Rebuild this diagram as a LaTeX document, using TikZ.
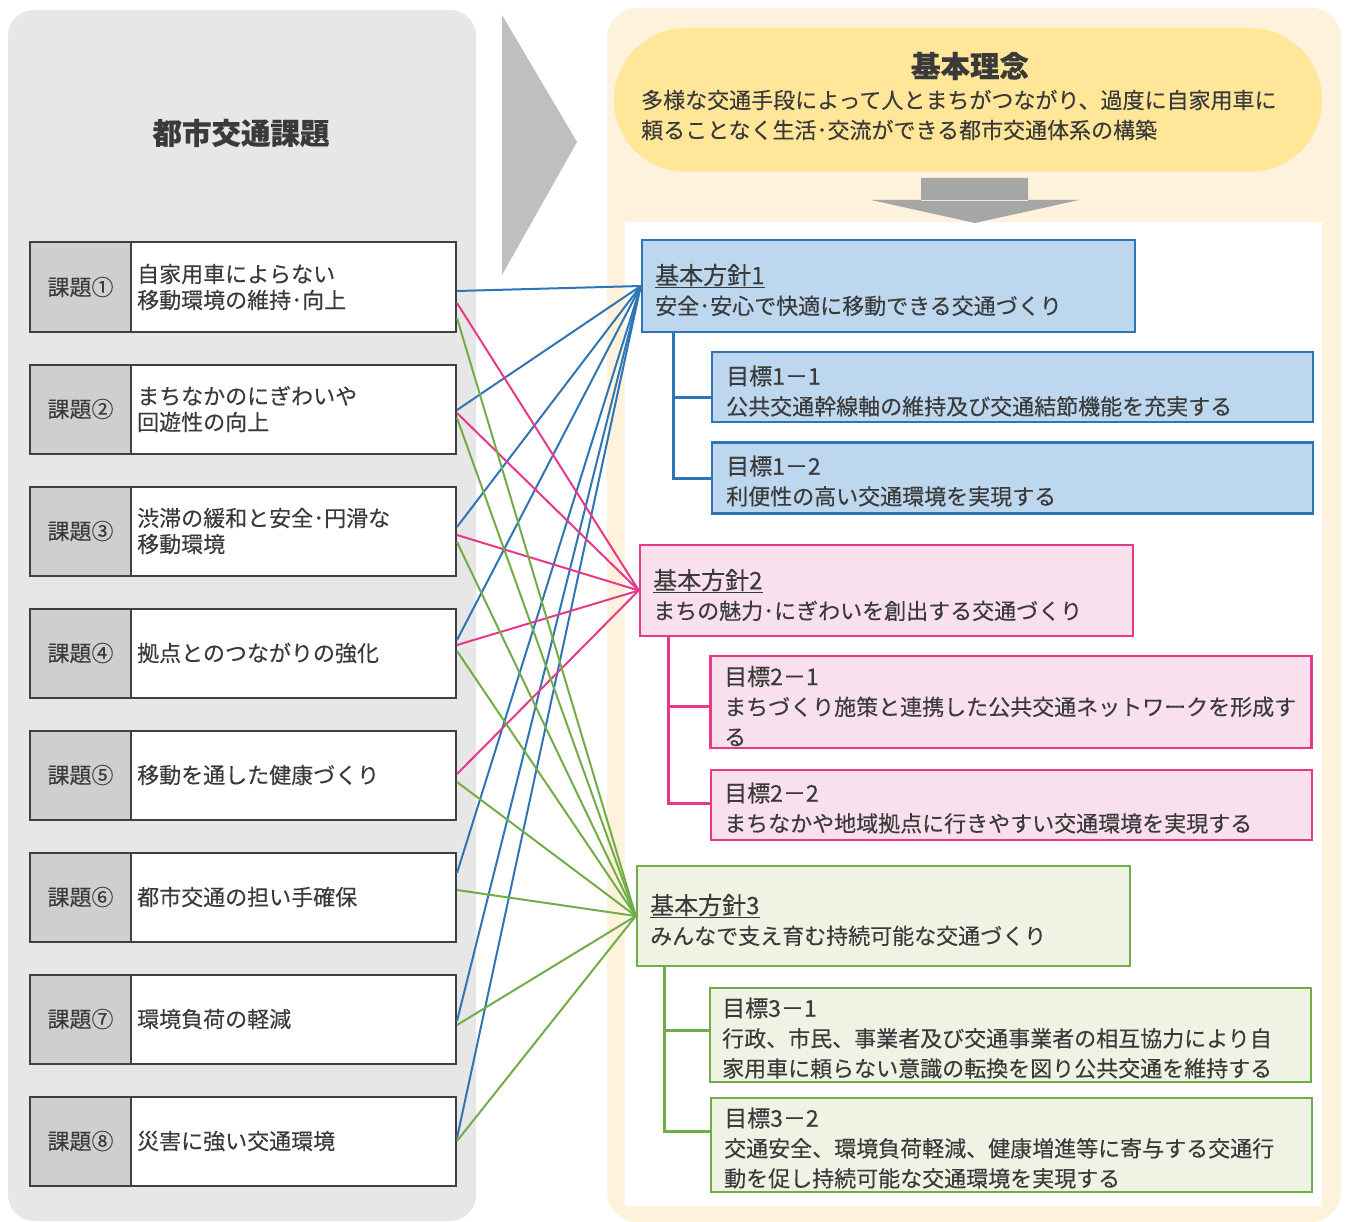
\documentclass[tikz,border=0pt]{standalone}
\usepackage{fontspec}
\newfontfamily\cjk[FakeBold=0.2]{Noto Sans CJK JP}
\newfontfamily\cjkm[FakeBold=0.45]{Noto Sans CJK JP}
\definecolor{tgray}{HTML}{3A3A3A}
\definecolor{panelgray}{HTML}{E7E7E7}
\definecolor{labelgray}{HTML}{D0CECE}
\definecolor{boxline}{HTML}{404040}
\definecolor{chev}{HTML}{BFBFBF}
\definecolor{cream}{HTML}{FEF2DC}
\definecolor{pill}{HTML}{FFE699}
\definecolor{darrow}{HTML}{A6A6A6}
\definecolor{lblue}{HTML}{2E75B6}
\definecolor{fblue}{HTML}{BDD7EE}
\definecolor{lpink}{HTML}{E8388A}
\definecolor{fpink}{HTML}{F8E1EC}
\definecolor{lgreen}{HTML}{70AD47}
\definecolor{fgreen}{HTML}{EEF3E4}
\begin{document}
\begin{tikzpicture}[x=1pt,y=-1pt,
  issue/.style={draw=boxline, line width=2pt, fill=white, minimum width=426pt, minimum height=89pt, inner sep=0pt},
  ilabel/.style={draw=boxline, line width=2pt, fill=labelgray, minimum width=101pt, minimum height=89pt, inner sep=0pt, anchor=west, text=tgray, font=\cjk\fontsize{22}{26}\selectfont},
  itext/.style={anchor=west, inner sep=0pt, align=left, text=tgray, font=\cjk\fontsize{22}{26}\selectfont},
  ptext/.style={anchor=west, inner sep=0pt, align=left, text=tgray, font=\cjk\fontsize{22}{30}\selectfont},
  pbox/.style={line width=2.5pt, minimum width=493pt, inner sep=0pt},
  gbox/.style={line width=2.5pt, minimum width=601pt, inner sep=0pt},
  bl/.style={draw=lblue, line width=2pt},
  pl/.style={draw=lpink, line width=2pt},
  gl/.style={draw=lgreen, line width=2pt},
  btree/.style={draw=lblue, line width=3pt},
  ptree/.style={draw=lpink, line width=3pt},
  gtree/.style={draw=lgreen, line width=3pt}
]
\useasboundingbox (0,0) rectangle (1348,1222);
% panels
\fill[panelgray, rounded corners=26pt] (8,10) rectangle (476,1221);
\fill[chev] (502,15) -- (577,142) -- (502,275) -- cycle;
\fill[cream, rounded corners=30pt] (607,8) rectangle (1341,1222);
\fill[pill, rounded corners=72pt] (614,28) rectangle (1322,172);
\fill[white] (625,222) rectangle (1322,1206);
\fill[darrow] (921,178) rectangle (1028,201) (871,200) -- (1079,200) -- (975,223) -- cycle;

% titles
\node[text=tgray, font=\cjk\bfseries\fontsize{29.5}{30}\selectfont] (ttl) at (241,133) {都市交通課題};
\node[text=tgray, font=\cjk\bfseries\fontsize{29.5}{30}\selectfont] (rinen) at (970,66) {基本理念};
\node[ptext] (rinent) at (641,115) {多様な交通手段によって人とまちがつながり、過度に自家用車に\\頼ることなく生活･交流ができる都市交通体系の構築};

% issues
\foreach \i/\y/\t in {1/287/{自家用車によらない\\移動環境の維持･向上},
                      2/409/{まちなかのにぎわいや\\回遊性の向上},
                      3/531/{渋滞の緩和と安全･円滑な\\移動環境},
                      4/653/{拠点とのつながりの強化},
                      5/775/{移動を通した健康づくり},
                      6/897/{都市交通の担い手確保},
                      7/1019/{環境負荷の軽減},
                      8/1141/{災害に強い交通環境}}{
  \node[issue] (i\i) at (243,\y) {};
  \node[ilabel] (l\i) at (i\i.west) {課題\ifcase\i\or ①\or ②\or ③\or ④\or ⑤\or ⑥\or ⑦\or ⑧\fi};
  \node[itext] (t\i) at (137,\y) {\t};
}

% policies
\node[pbox, draw=lblue, fill=fblue, minimum height=92pt] (p1) at (888.5,286) {};
\node[ptext] (p1t) at (655,290) {{\cjkm\fontsize{24}{30}\selectfont\underline{基本方針1}}\\安全･安心で快適に移動できる交通づくり};
\node[gbox, draw=lblue, fill=fblue, minimum height=70pt] (g11) at (1012.5,387) {};
\node[ptext] (g11t) at (726,391) {{\cjkm\fontsize{23}{30}\selectfont 目標1－1}\\公共交通幹線軸の維持及び交通結節機能を充実する};
\node[gbox, draw=lblue, fill=fblue, minimum height=71pt] (g12) at (1012.5,478) {};
\node[ptext] (g12t) at (726,481) {{\cjkm\fontsize{23}{30}\selectfont 目標1－2}\\利便性の高い交通環境を実現する};

\node[pbox, draw=lpink, fill=fpink, minimum height=91pt] (p2) at (886.5,590.5) {};
\node[ptext] (p2t) at (653,595) {{\cjkm\fontsize{24}{30}\selectfont\underline{基本方針2}}\\まちの魅力･にぎわいを創出する交通づくり};
\node[gbox, draw=lpink, fill=fpink, minimum height=92pt] (g21) at (1011,702) {};
\node[ptext] (g21t) at (724,706) {{\cjkm\fontsize{23}{30}\selectfont 目標2－1}\\まちづくり施策と連携した公共交通ネットワークを形成す\\る};
\node[gbox, draw=lpink, fill=fpink, minimum height=70pt] (g22) at (1011.5,805) {};
\node[ptext] (g22t) at (724,808) {{\cjkm\fontsize{23}{30}\selectfont 目標2－2}\\まちなかや地域拠点に行きやすい交通環境を実現する};

\node[pbox, draw=lgreen, fill=fgreen, minimum height=100pt] (p3) at (883.5,916) {};
\node[ptext] (p3t) at (650,920) {{\cjkm\fontsize{24}{30}\selectfont\underline{基本方針3}}\\みんなで支え育む持続可能な交通づくり};
\node[gbox, draw=lgreen, fill=fgreen, minimum height=94pt] (g31) at (1010.5,1035) {};
\node[ptext] (g31t) at (722,1038) {{\cjkm\fontsize{23}{30}\selectfont 目標3－1}\\行政、市民、事業者及び交通事業者の相互協力により自\\家用車に頼らない意識の転換を図り公共交通を維持する};
\node[gbox, draw=lgreen, fill=fgreen, minimum height=94pt] (g32) at (1011.5,1145) {};
\node[ptext] (g32t) at (724,1148) {{\cjkm\fontsize{23}{30}\selectfont 目標3－2}\\交通安全、環境負荷軽減、健康増進等に寄与する交通行\\動を促し持続可能な交通環境を実現する};

% trees
\coordinate (x1) at (673,0);
\coordinate (x2) at (668,0);
\coordinate (x3) at (664,0);
\draw[btree] (p1.south -| x1) |- ([yshift=-10pt]g11.west);
\draw[btree] (p1.south -| x1) |- (g12.west);
\draw[ptree] (p2.south -| x2) |- ([yshift=-4pt]g21.west);
\draw[ptree] (p2.south -| x2) |- ([yshift=2pt]g22.west);
\draw[gtree] (p3.south -| x3) |- ([yshift=5pt]g31.west);
\draw[gtree] (p3.south -| x3) |- ([yshift=14pt]g32.west);

% connectors to policy 1 (blue)
\draw[bl] ([yshift=-4pt]i1.east) -- (p1.west);
\draw[bl] ([yshift=-1pt]i2.east) -- (p1.west);
\draw[bl] ([yshift=4pt]i3.east) -- (p1.west);
\draw[bl] ([yshift=13pt]i4.east) -- (p1.west);
\draw[bl] ([yshift=24pt]i6.east) -- (p1.west);
\draw[bl] ([yshift=-2pt]i7.east) -- (p1.west);
\draw[bl] ([yshift=3pt]i8.east) -- (p1.west);
% connectors to policy 2 (pink)
\draw[pl] ([yshift=-16pt]i1.east) -- (p2.west);
\draw[pl] ([yshift=-4pt]i2.east) -- (p2.west);
\draw[pl] ([yshift=-4pt]i3.east) -- (p2.west);
\draw[pl] ([yshift=8pt]i4.east) -- (p2.west);
\draw[pl] ([yshift=1pt]i5.east) -- (p2.west);
% connectors to policy 3 (green)
\draw[gl] ([yshift=-31pt]i1.east) -- (p3.west);
\draw[gl] ([yshift=-9pt]i2.east) -- (p3.west);
\draw[gl] ([yshift=-11pt]i3.east) -- (p3.west);
\draw[gl] ([yshift=2pt]i4.east) -- (p3.west);
\draw[gl] ([yshift=-7pt]i5.east) -- (p3.west);
\draw[gl] ([yshift=7pt]i6.east) -- (p3.west);
\draw[gl] ([yshift=-6pt]i7.east) -- (p3.west);
\draw[gl] ([yshift=0pt]i8.east) -- (p3.west);
\end{tikzpicture}
\end{document}
